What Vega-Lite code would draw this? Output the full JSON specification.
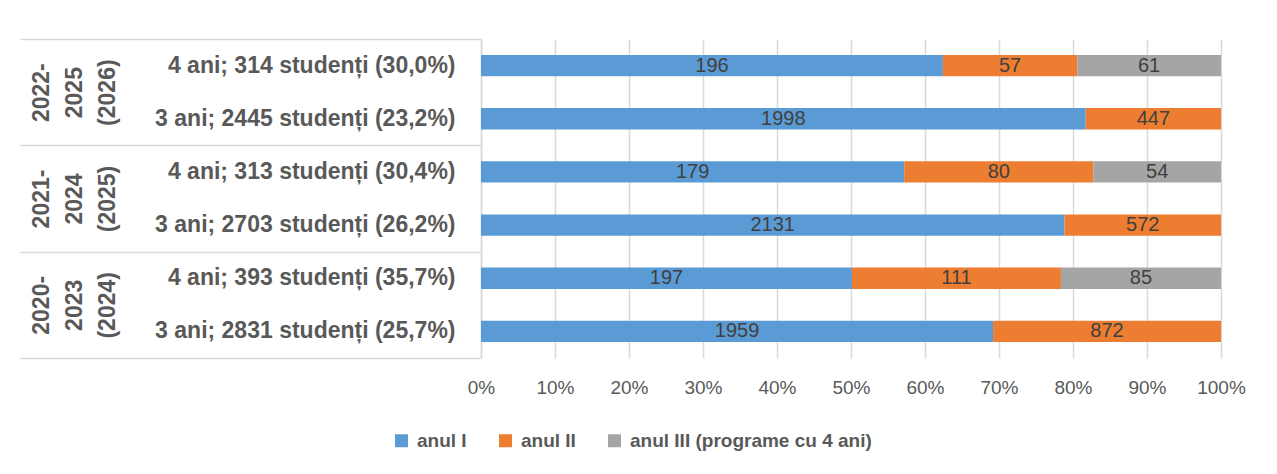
{
  "$schema": "https://vega.github.io/schema/vega-lite/v6.json",
  "width": 740,
  "height": 319,
  "autosize": {"type": "none"},
  "padding": {"left": 481, "top": 39, "right": 56, "bottom": 116},
  "background": "white",
  "config": {"font": "Liberation Sans", "view": {"stroke": null}},
  "data": {
    "values": [
      {"cohort": "2022-2025 (2026)", "program": "4 ani; 314 studenți (30,0%)", "anul": "anul I", "ord": 1, "n": 196},
      {"cohort": "2022-2025 (2026)", "program": "4 ani; 314 studenți (30,0%)", "anul": "anul II", "ord": 2, "n": 57},
      {"cohort": "2022-2025 (2026)", "program": "4 ani; 314 studenți (30,0%)", "anul": "anul III (programe cu 4 ani)", "ord": 3, "n": 61},
      {"cohort": "2022-2025 (2026)", "program": "3 ani; 2445 studenți (23,2%)", "anul": "anul I", "ord": 1, "n": 1998},
      {"cohort": "2022-2025 (2026)", "program": "3 ani; 2445 studenți (23,2%)", "anul": "anul II", "ord": 2, "n": 447},
      {"cohort": "2021-2024 (2025)", "program": "4 ani; 313 studenți (30,4%)", "anul": "anul I", "ord": 1, "n": 179},
      {"cohort": "2021-2024 (2025)", "program": "4 ani; 313 studenți (30,4%)", "anul": "anul II", "ord": 2, "n": 80},
      {"cohort": "2021-2024 (2025)", "program": "4 ani; 313 studenți (30,4%)", "anul": "anul III (programe cu 4 ani)", "ord": 3, "n": 54},
      {"cohort": "2021-2024 (2025)", "program": "3 ani; 2703 studenți (26,2%)", "anul": "anul I", "ord": 1, "n": 2131},
      {"cohort": "2021-2024 (2025)", "program": "3 ani; 2703 studenți (26,2%)", "anul": "anul II", "ord": 2, "n": 572},
      {"cohort": "2020-2023 (2024)", "program": "4 ani; 393 studenți (35,7%)", "anul": "anul I", "ord": 1, "n": 197},
      {"cohort": "2020-2023 (2024)", "program": "4 ani; 393 studenți (35,7%)", "anul": "anul II", "ord": 2, "n": 111},
      {"cohort": "2020-2023 (2024)", "program": "4 ani; 393 studenți (35,7%)", "anul": "anul III (programe cu 4 ani)", "ord": 3, "n": 85},
      {"cohort": "2020-2023 (2024)", "program": "3 ani; 2831 studenți (25,7%)", "anul": "anul I", "ord": 1, "n": 1959},
      {"cohort": "2020-2023 (2024)", "program": "3 ani; 2831 studenți (25,7%)", "anul": "anul II", "ord": 2, "n": 872}
    ]
  },
  "layer": [
    {
      "layer": [
        {
          "mark": {"type": "bar"},
          "encoding": {
            "y": {
              "field": "program", "type": "nominal",
              "sort": ["4 ani; 314 studenți (30,0%)", "3 ani; 2445 studenți (23,2%)", "4 ani; 313 studenți (30,4%)", "3 ani; 2703 studenți (26,2%)", "4 ani; 393 studenți (35,7%)", "3 ani; 2831 studenți (25,7%)"],
              "scale": {"paddingInner": 0.6, "paddingOuter": 0.3},
              "axis": {
                "orient": "left", "title": null, "ticks": false,
                "labelFontSize": 23, "labelFontWeight": "bold", "labelColor": "#595959",
                "labelPadding": 26, "labelLimit": 450,
                "domainColor": "#D9D9D9", "domainWidth": 1.5
              }
            },
            "x": {
              "field": "n", "type": "quantitative", "stack": "normalize",
              "scale": {"domain": [0, 1]},
              "axis": {
                "title": null, "values": [0, 0.1, 0.2, 0.3, 0.4, 0.5, 0.6, 0.7, 0.8, 0.9, 1],
                "format": ".0%", "labelFlush": false, "domain": false, "ticks": false,
                "grid": true, "gridColor": "#D9D9D9", "gridWidth": 1.5,
                "labelFontSize": 19, "labelColor": "#595959", "labelPadding": 20
              }
            },
            "color": {
              "field": "anul", "type": "nominal",
              "scale": {"domain": ["anul I", "anul II", "anul III (programe cu 4 ani)"], "range": ["#5B9BD5", "#ED7D31", "#A5A5A5"]},
              "legend": {
                "orient": "none", "legendX": -89, "legendY": 392, "direction": "horizontal",
                "title": null, "symbolType": "square", "symbolSize": 169, "symbolStrokeWidth": 0,
                "labelFontSize": 19, "labelFontWeight": "bold", "labelColor": "#595959",
                "columnPadding": 29, "labelOffset": 6, "labelLimit": 400
              }
            },
            "order": {"field": "ord", "type": "quantitative"}
          }
        },
        {
          "mark": {"type": "text", "fontSize": 20, "color": "#404040", "align": "center", "baseline": "middle"},
          "encoding": {
            "y": {
              "field": "program", "type": "nominal",
              "sort": ["4 ani; 314 studenți (30,0%)", "3 ani; 2445 studenți (23,2%)", "4 ani; 313 studenți (30,4%)", "3 ani; 2703 studenți (26,2%)", "4 ani; 393 studenți (35,7%)", "3 ani; 2831 studenți (25,7%)"]
            },
            "x": {"field": "n", "type": "quantitative", "stack": "normalize", "bandPosition": 0.5},
            "detail": {"field": "anul", "type": "nominal"},
            "order": {"field": "ord", "type": "quantitative"},
            "text": {"field": "n", "type": "quantitative"}
          }
        }
      ]
    },
    {
      "mark": {"type": "rule", "opacity": 0},
      "encoding": {
        "y": {
          "field": "cohort", "type": "nominal",
          "sort": ["2022-2025 (2026)", "2021-2024 (2025)", "2020-2023 (2024)"],
          "scale": {"paddingInner": 0, "paddingOuter": 0},
          "axis": {
            "orient": "left", "title": null, "domain": false,
            "ticks": true, "tickBand": "extent", "tickSize": 461, "tickColor": "#D9D9D9", "tickWidth": 1.5,
            "labelAngle": 270, "labelAlign": "center", "labelBaseline": "middle",
            "labelFontSize": 23, "labelFontWeight": "bold", "labelColor": "#595959",
            "labelLineHeight": 33, "labelPadding": -21, "labelLimit": 300, "labelOverlap": false,
            "labelExpr": "[slice(datum.label, 0, 5), slice(datum.label, 5, 9), slice(datum.label, 10)]"
          }
        }
      }
    }
  ],
  "resolve": {"scale": {"y": "independent"}, "axis": {"y": "independent"}}
}
